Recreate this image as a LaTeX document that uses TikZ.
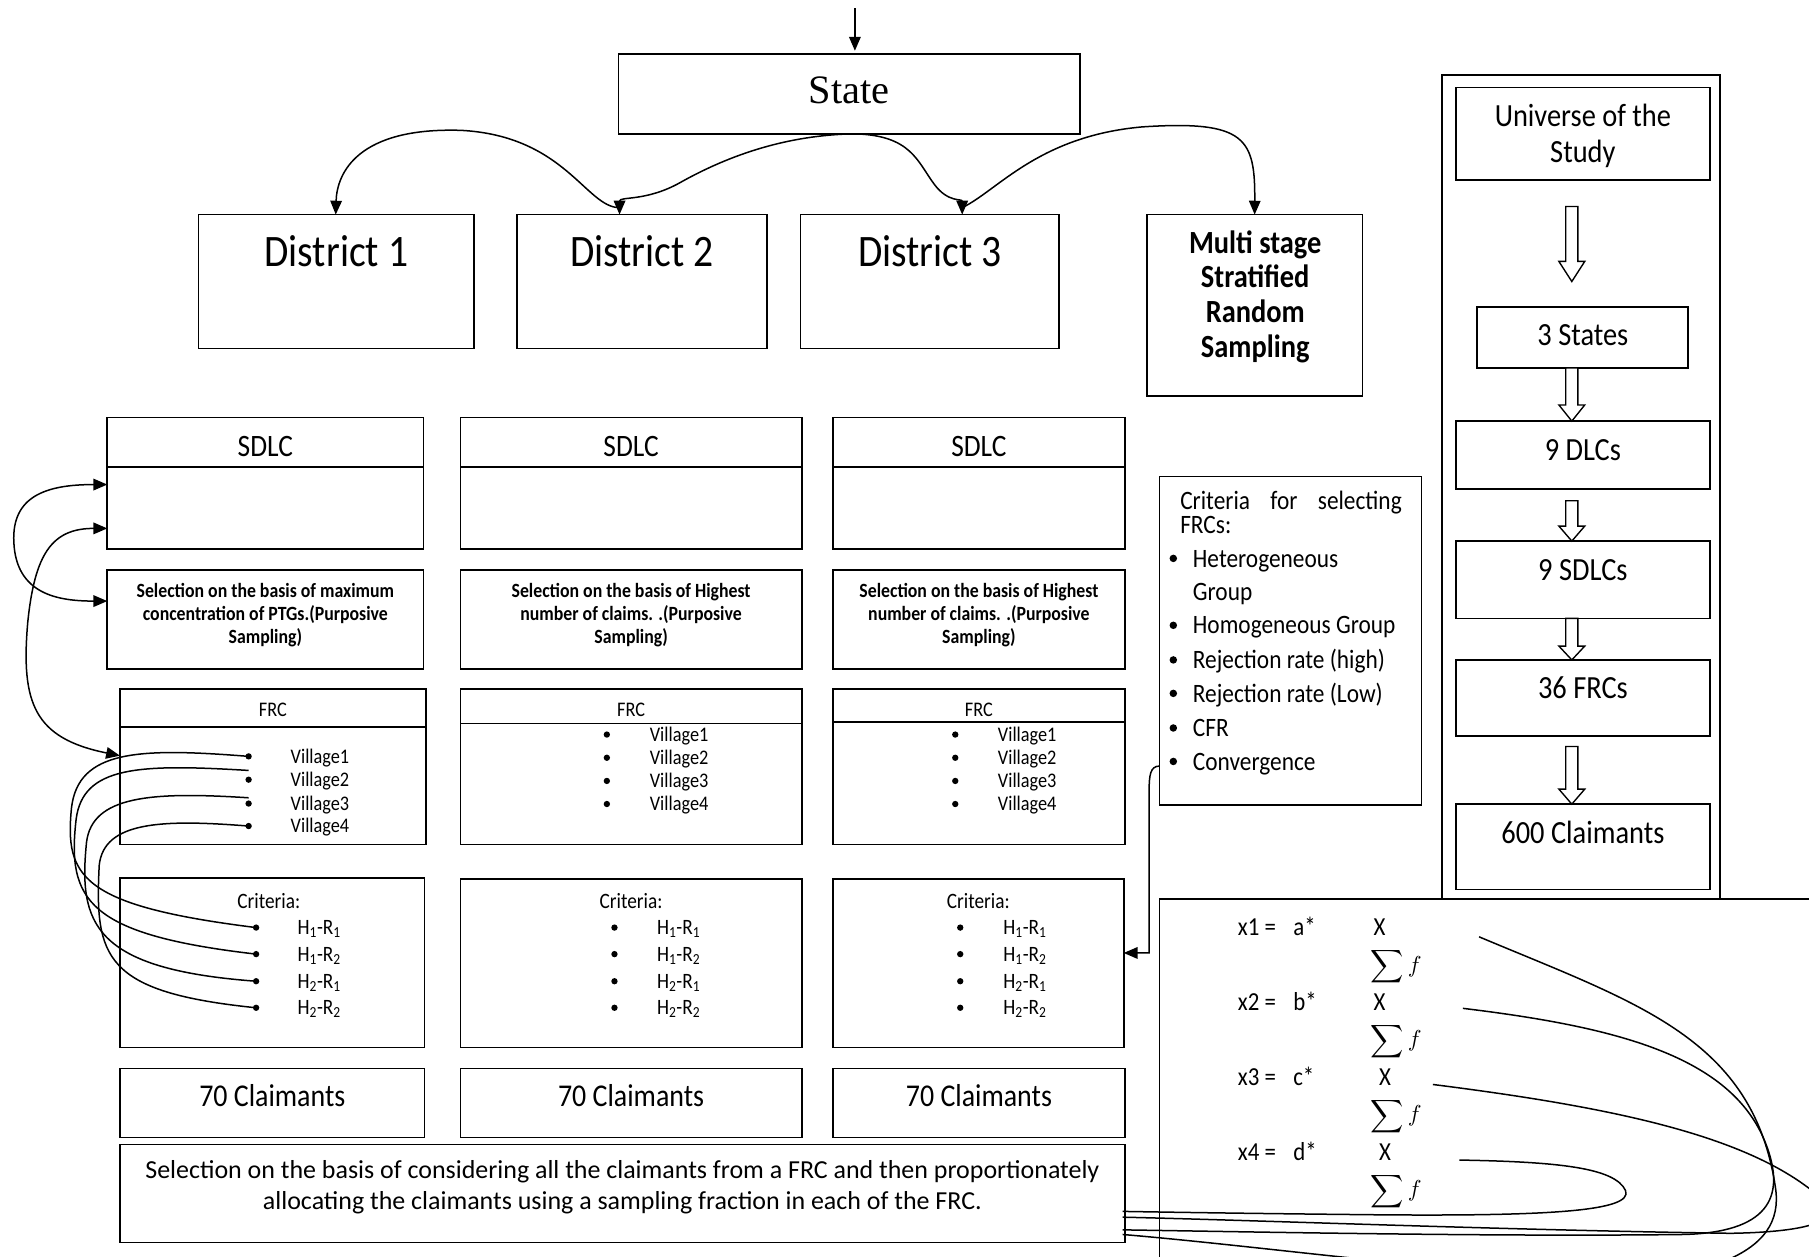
\documentclass[tikz,border=0pt]{standalone}
\usepackage{fontspec}
\usepackage{graphicx}
\usetikzlibrary{arrows.meta,calc}
\newfontfamily\cfnt{Carlito}[FakeStretch=0.88]
\newfontfamily\cfw{Carlito}
\newfontfamily\serfnt{Liberation Serif}
\newcommand\bbox[6][]{\node[box,#1,minimum width={#5-#3},minimum height={#6-#4}] (#2) at ({(#3+#5)/2},{(#4+#6)/2}) {};}
\newcommand\harrow[4]{% x, top, tip, head length
  \draw[blockarr] ({#1-5.3},{#2}) -- ({#1+5.3},{#2}) -- ({#1+5.3},{#3-#4}) -- ({#1+11.2},{#3-#4}) -- ({#1},{#3}) -- ({#1-11.2},{#3-#4}) -- ({#1-5.3},{#3-#4}) -- cycle;}
\begin{document}
\begin{tikzpicture}[x=1pt,y=-1pt,
  box/.style={draw,line width=1.4pt,inner sep=0pt,outer sep=0pt},
  hline/.style={line width=1.4pt},
  tx/.style={inner sep=0pt,outer sep=0pt},
  dot/.style={circle,fill=black,inner sep=0pt,minimum size=5.5pt},
  bdot/.style={circle,fill=black,inner sep=0pt,minimum size=6.5pt},
  arr/.style={line width=1.3pt,-{Triangle[length=12pt,width=10pt]}},
  dblarr/.style={line width=1.3pt,{Triangle[length=12pt,width=10pt]}-{Triangle[length=12pt,width=10pt]}},
  cur/.style={line width=1.3pt},
  blockarr/.style={line width=1.2pt,fill=white},
  fdist/.style={font=\cfnt\fontsize{39}{47}\selectfont},
  fsdlc/.style={font=\cfnt\fontsize{27}{32}\selectfont},
  fsel/.style={font=\cfnt\bfseries\fontsize{17.5}{20}\selectfont},
  fsm/.style={font=\cfnt\fontsize{18}{20}\selectfont},
  fhr/.style={font=\cfnt\fontsize{19}{20}\selectfont},
  fcrit/.style={font=\cfnt\fontsize{19}{22}\selectfont},
  fcl/.style={font=\cfnt\fontsize{27.5}{32}\selectfont},
  fbot/.style={font=\cfw\fontsize{22.5}{27.4}\selectfont},
  fmulti/.style={font=\cfnt\bfseries\fontsize{28}{30}\selectfont},
  fright/.style={font=\cfnt\fontsize{28}{31}\selectfont},
  fcs/.style={font=\cfnt\fontsize{23}{29}\selectfont},
  fform/.style={font=\cfnt\fontsize{22.5}{26}\selectfont}
]
\path[fill=white,use as bounding box] (0,0) rectangle (1568,1089);

% ---------- top part ----------
\bbox{state}{536}{47}{936}{116}
\node[tx,font=\serfnt\fontsize{35}{42}\selectfont,anchor=base] (statet) at (736,89.6) {State};
\bbox{d1}{172}{186}{411}{302}
\bbox{d2}{448}{186}{665}{302}
\bbox{d3}{694}{186}{918}{302}
\bbox{multi}{994}{186}{1181}{343}
\node[tx,fdist,anchor=base] (d1t) at (d1.center |- 0,231) {District 1};
\node[tx,fdist,anchor=base] (d2t) at (d2.center |- 0,231) {District 2};
\node[tx,fdist,anchor=base] (d3t) at (d3.center |- 0,231) {District 3};
\node[tx,fmulti,align=center] (multit) at (1088,257) {Multi stage\\Stratified\\Random\\Sampling};

\coordinate (topin) at (741,7);
\draw[arr] (topin) -- ($(topin |- state.north)+(0,-3)$);
\draw[arr] ([xshift=4pt]state.south) .. controls (690,117) and (640,130) .. (590,158) .. controls (560,175) and (537,170) .. ($(d2.north west)+(89,0)$);
\draw[arr] ($(d2.north west)+(89,-6)$) .. controls (508,180) and (490,118) .. (400,113) .. controls (310,110) and (292,150) .. ($(d1.north west)+(119,0)$);
\draw[arr] ([xshift=4pt]state.south) .. controls (790,117) and (795,140) .. (810,160) .. controls (822,176) and (834,172) .. ($(d3.north west)+(140,0)$);
\draw[arr] ($(d3.north west)+(140,-6)$) .. controls (865,165) and (900,118) .. (990,110) .. controls (1080,104) and (1088,120) .. (multi.north);

% ---------- right column ----------
\bbox{outer}{1250}{65}{1491}{779}
\bbox{univ}{1262}{76}{1482}{156}
\bbox{sts}{1280}{266}{1463}{319}
\bbox{dlcs}{1262}{365}{1482}{424}
\bbox{sdlcs}{1262}{469}{1482}{536}
\bbox{frcs}{1262}{572}{1482}{638}
\bbox{clall}{1262}{697}{1482}{771}
\node[tx,fright,align=center] (univt) at (1372,117.5) {Universe of the\\Study};
\node[tx,fright,anchor=base] (stst) at (1372,299.5) {3 States};
\node[tx,fright,anchor=base] (dlcst) at (1372,399) {9 DLCs};
\node[tx,fright,anchor=base] (sdlcst) at (1372,503.5) {9 SDLCs};
\node[tx,fright,anchor=base] (frcst) at (1372,605.5) {36 FRCs};
\node[tx,fright,anchor=base] (clallt) at (1372,731.3) {600 Claimants};
\harrow{1362.4}{179}{244}{17.4}
\harrow{1362.4}{319}{365}{14}
\harrow{1362.4}{434}{469}{13}
\harrow{1362.4}{536}{572}{12}
\harrow{1362.4}{647}{697}{13}

% ---------- criteria for selecting FRCs ----------
\bbox{crsel}{1005}{413}{1232}{698}
\node[tx,fcs,anchor=base west] (crs1) at (1023,441.5) {\makebox[192pt][s]{Criteria for selecting}};
\node[tx,fcs,anchor=base west] (crs2) at (1023,462.5) {FRCs:};
\node[bdot] (cb1) at (1017,484) {};
\node[bdot] (cb2) at (1017,542) {};
\node[bdot] (cb3) at (1017,572) {};
\node[bdot] (cb4) at (1017,601) {};
\node[bdot] (cb5) at (1017,631) {};
\node[bdot] (cb6) at (1017,660) {};
\node[tx,fcs,anchor=base west] (ci1) at (1034,491.5) {Heterogeneous};
\node[tx,fcs,anchor=base west] (ci1b) at (1034,520.5) {Group};
\node[tx,fcs,anchor=base west] (ci2) at (1034,549.5) {Homogeneous Group};
\node[tx,fcs,anchor=base west] (ci3) at (1034,579.5) {Rejection rate (high)};
\node[tx,fcs,anchor=base west] (ci4) at (1034,608.5) {Rejection rate (Low)};
\node[tx,fcs,anchor=base west] (ci5) at (1034,638.5) {CFR};
\node[tx,fcs,anchor=base west] (ci6) at (1034,667.5) {Convergence};

% ---------- three columns ----------
\bbox{sdlcA}{93}{362}{367}{476}
\bbox{sdlcB}{399}{362}{695}{476}
\bbox{sdlcC}{722}{362}{975}{476}
\foreach \n in {A,B,C}{
  \draw[hline] (sdlc\n.west |- 0,405) -- (sdlc\n.east |- 0,405);
  \node[tx,fsdlc,anchor=base] (sdlc\n t) at (sdlc\n.center |- 0,395.5) {SDLC};
}
\bbox{selA}{93}{494}{367}{580}
\bbox{selB}{399}{494}{695}{580}
\bbox{selC}{722}{494}{975}{580}
\node[tx,fsel,align=center] (selAt) at ($(selA.center)+(0,-4)$) {Selection on the basis of maximum\\concentration of PTGs.(Purposive\\Sampling)};
\node[tx,fsel,align=center] (selBt) at ($(selB.center)+(0,-4)$) {Selection on the basis of Highest\\number of claims. .(Purposive\\Sampling)};
\node[tx,fsel,align=center] (selCt) at ($(selC.center)+(0,-4)$) {Selection on the basis of Highest\\number of claims. .(Purposive\\Sampling)};

\bbox{frcA}{104}{597}{369}{732}
\bbox{frcB}{399}{597}{695}{732}
\bbox{frcC}{722}{597}{975}{732}
\draw[hline] (frcA.west |- 0,630) -- (frcA.east |- 0,630);
\draw[hline] (frcB.west |- 0,627) -- (frcB.east |- 0,627);
\draw[hline] (frcC.west |- 0,626) -- (frcC.east |- 0,626);
\node[tx,fsm,anchor=base] (frcAt) at (frcA.center |- 0,621) {FRC};
\node[tx,fsm,anchor=base] (frcBt) at (frcB.center |- 0,621) {FRC};
\node[tx,fsm,anchor=base] (frcCt) at (frcC.center |- 0,621) {FRC};
% villages
\foreach \i/\y in {1/655.6,2/675.8,3/696.5,4/716}{
  \node[dot] (vA\i) at (215.5,\y) {};
  \node[tx,fsm,anchor=base west] (vA\i t) at (252,\y+5.8) {Village\i};
}
\foreach \i/\y in {1/636.7,2/656.8,3/676.9,4/696.9}{
  \node[dot] (vB\i) at (526,\y) {};
  \node[tx,fsm,anchor=base west] (vB\i t) at (563.3,\y+5.8) {Village\i};
  \node[dot] (vC\i) at (828,\y) {};
  \node[tx,fsm,anchor=base west] (vC\i t) at (865,\y+5.8) {Village\i};
}

\bbox{critA}{104}{761}{368}{908}
\bbox{critB}{399}{762}{695}{908}
\bbox{critC}{722}{762}{974}{908}
\node[tx,fcrit] (critAt) at (233,781) {Criteria:};
\node[tx,fcrit] (critBt) at (547,781) {Criteria:};
\node[tx,fcrit] (critCt) at (848,781) {Criteria:};
\foreach \c/\bx/\tx in {A/222/258,B/532.6/569.5,C/832.3/869.7}{
  \foreach \i/\y/\lab in {1/804/{H\textsubscript{1}-R\textsubscript{1}},2/827/{H\textsubscript{1}-R\textsubscript{2}},3/850.5/{H\textsubscript{2}-R\textsubscript{1}},4/873.5/{H\textsubscript{2}-R\textsubscript{2}}}{
    \node[dot] (c\c\i) at (\bx,\y) {};
    \node[tx,fhr,anchor=base west] (c\c\i t) at (\tx,\y+6) {\lab};
  }
}

\bbox{clA}{104}{926}{368}{986}
\bbox{clB}{399}{926}{695}{986}
\bbox{clC}{722}{926}{975}{986}
\node[tx,fcl,anchor=base] (clAt) at (clA.center |- 0,959) {70 Claimants};
\node[tx,fcl,anchor=base] (clBt) at (clB.center |- 0,959) {70 Claimants};
\node[tx,fcl,anchor=base] (clCt) at (clC.center |- 0,959) {70 Claimants};

\bbox{selall}{104}{992}{975}{1077}
\node[tx,fbot,align=center] (selallt) at (539.5,1029) {Selection on the basis of considering all the claimants from a FRC and then proportionately\\allocating the claimants using a sampling fraction in each of the FRC.};

% ---------- left connectors ----------
\draw[dblarr] ($(sdlcA.north west)+(0,58)$) .. controls (40,420) and (10,430) .. (12,470) .. controls (14,515) and (50,521) .. ($(selA.north west)+(0,27)$);
\draw[dblarr] ($(sdlcA.north west)+(0,96)$) .. controls (45,458) and (30,480) .. (24,540) .. controls (18,610) and (30,640) .. ($(frcA.north west)+(0,58)$);
\draw[cur] (vA1.center) .. controls (120,648) and (68,650) .. (62,700) .. controls (56,760) and (70,785) .. (cA1.center);
\draw[cur] ($(vA2.center)+(0,-8)$) .. controls (120,662) and (72,664) .. (66,710) .. controls (58,780) and (75,810) .. (cA2.center);
\draw[cur] ($(vA3.center)+(0,-5)$) .. controls (130,686) and (80,690) .. (75,730) .. controls (68,800) and (80,840) .. (cA3.center);
\draw[cur] (vA4.center) .. controls (140,710) and (90,712) .. (86,750) .. controls (82,830) and (90,860) .. (cA4.center);

% ---------- criteria connector ----------
\draw[arr] ($(crsel.north west)+(0,251)$) .. controls (997,664) and (996,672) .. (996,686) -- (996,826) -- (critC.east |- 0,826);

% ---------- formula box ----------
\bbox{fbox}{1005}{779}{1640}{1140}
\foreach \i/\y/\v/\xx in {1/810.5/a/1190.6,2/875.5/b/1190.6,3/940.5/c/1195.3,4/1005.5/d/1195.3}{
  \node[tx,fform,anchor=base west] (fx\i) at (1073,\y) {x\i\ =};
  \node[tx,fform,anchor=base west] (fv\i) at (1121,\y) {\v*};
  \node[tx,fform,anchor=base west] (fX\i) at (\xx,\y) {X};
  \node[tx,anchor=north west] (fs\i) at (1188,\y+11) {\scalebox{2}{$\displaystyle\sum f$}};
}
\coordinate (e1) at (1282,812);
\coordinate (e2) at (1268,874);
\coordinate (e3) at (1242,940);
\coordinate (e4) at (1265,1005.5);
\draw[cur] (e1) .. controls (1420,870) and (1520,900) .. (1539,1030) .. controls (1543,1058) and (1530,1080) .. (1490,1095) .. controls (1400,1125) and (1150,1085) .. ($(selall.north east)+(-2,78)$);
\draw[cur] (e2) .. controls (1400,890) and (1500,915) .. (1530,990) .. controls (1550,1040) and (1530,1068) .. (1460,1070) .. controls (1300,1072) and (1100,1068) .. ($(selall.north east)+(-2,74)$);
\draw[cur] (e3) .. controls (1400,960) and (1520,985) .. (1580,1040) .. controls (1600,1060) and (1560,1068) .. (1500,1069) .. controls (1300,1066) and (1100,1058) .. ($(selall.north east)+(-2,63)$);
\draw[cur] (e4) .. controls (1350,1007) and (1400,1012) .. (1409,1032) .. controls (1416,1050) and (1340,1054) .. (1200,1053) .. controls (1100,1052) and (1030,1051) .. ($(selall.north east)+(-2,58)$);
\end{tikzpicture}
\end{document}
